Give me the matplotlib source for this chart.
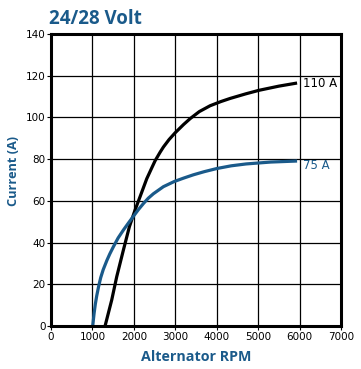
import matplotlib.pyplot as plt
import numpy as np

# curve points
rpm_110 = [1305, 1466, 1586, 1747, 1892, 2029, 2150, 2311, 2432, 2512, 2633, 2713, 2850, 2995,
           3200, 3357, 3580, 3840, 4100, 4323, 4700, 5020, 5500, 5940]
amp_110 = [0, 12.5, 23.6, 36.4, 47.6, 55.6, 62, 70.6, 75.8, 79.2, 83.3, 85.8, 89.4, 92.6,
           96.6, 99.4, 102.8, 105.6, 107.6, 109.1, 111.3, 113, 115, 116.5]

rpm_75 = [1007, 1040, 1070, 1104, 1150, 1200, 1260, 1350, 1420, 1506, 1620, 1747, 1870, 1989,
          2110, 2230, 2350, 2471, 2713, 2978, 3200, 3438, 3700, 4002, 4350, 4710, 5300, 5940]
amp_75 = [0, 6, 10.5, 14.5, 19, 23.2, 27, 31.5, 34.6, 38, 42.2, 46, 49.4, 52.6,
          55.8, 58.7, 61.3, 63.4, 66.8, 69.3, 70.9, 72.5, 74, 75.5, 76.8, 77.7, 78.6, 79.1]

blue = '#1a5a8a'
narrow = ['Liberation Sans Narrow', 'DejaVu Sans']
bold = ['Open Sans', 'DejaVu Sans']

fig = plt.figure(figsize=(3.61, 3.69), dpi=100)
ax = fig.add_axes([51 / 361, 43 / 369, 290 / 361, 292 / 369])

ax.plot(rpm_110, amp_110, color='black', lw=2.3, solid_capstyle='butt', solid_joinstyle='round')
ax.plot(rpm_75, amp_75, color=blue, lw=2.3, solid_capstyle='butt', solid_joinstyle='round')

ax.text(6080, amp_110[-1], '110 A', fontsize=8.5, family=narrow, va='center', ha='left')
ax.text(6080, amp_75[-1] - 2, '75 A', fontsize=8.5, family=narrow, va='center', ha='left', color=blue)

ax.set_xlim(0, 7000)
ax.set_ylim(0, 140)
ax.set_xticks(np.arange(0, 7001, 1000))
ax.set_yticks(np.arange(0, 141, 20))
ax.grid(True, color='black', lw=0.9)
ax.set_axisbelow(True)
for s in ax.spines.values():
    s.set_linewidth(2.2)
ax.tick_params(length=3, width=0.8, pad=1, labelsize=7.5)
for lab in ax.get_xticklabels() + ax.get_yticklabels():
    lab.set_family(narrow)

ax.set_xlabel('Alternator RPM', fontsize=10.3, fontweight='bold', color=blue, family=bold, labelpad=6)
ax.set_ylabel('Current (A)', fontsize=9.2, fontweight='bold', color=blue, family=bold)
ax.yaxis.set_label_coords(-0.107, 0.53)

fig.text(49 / 361, 1 - 19 / 369, '24/28 Volt', fontsize=13.5, fontweight='bold', color=blue,
         family=bold, va='center', ha='left')

fig.savefig('out.png', dpi=100)
